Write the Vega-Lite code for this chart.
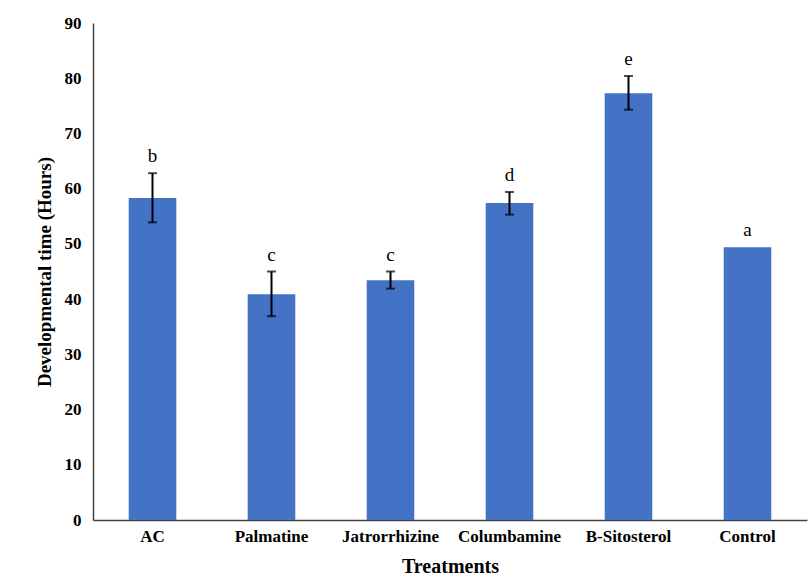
{
  "$schema": "https://vega.github.io/schema/vega-lite/v6.json",
  "autosize": "none",
  "width": 714,
  "height": 497,
  "padding": {"left": 93, "top": 23, "right": 5, "bottom": 65},
  "background": "white",
  "config": {
    "view": {"stroke": null},
    "font": "Liberation Serif",
    "axis": {"labelFont": "Liberation Serif", "titleFont": "Liberation Serif", "labelFontWeight": "bold", "titleFontWeight": "bold", "labelColor": "black", "titleColor": "black", "domainColor": "#444", "domainWidth": 1.5, "ticks": false, "grid": false}
  },
  "data": {
    "values": [
      {"treatment": "AC", "mean": 58.3, "lower": 53.9, "upper": 62.8, "letter": "b"},
      {"treatment": "Palmatine", "mean": 40.9, "lower": 36.9, "upper": 45.0, "letter": "c"},
      {"treatment": "Jatrorrhizine", "mean": 43.4, "lower": 41.9, "upper": 45.0, "letter": "c"},
      {"treatment": "Columbamine", "mean": 57.4, "lower": 55.3, "upper": 59.4, "letter": "d"},
      {"treatment": "B-Sitosterol", "mean": 77.3, "lower": 74.3, "upper": 80.4, "letter": "e"},
      {"treatment": "Control", "mean": 49.4, "lower": null, "upper": null, "letter": "a"}
    ]
  },
  "encoding": {
    "x": {"field": "treatment", "type": "nominal", "sort": null,
      "scale": {"paddingInner": 0.6, "paddingOuter": 0.3},
      "axis": {"title": "Treatments", "labelAngle": 0, "labelFontSize": 17, "titleFontSize": 20, "labelPadding": 8, "titlePadding": 12}}
  },
  "layer": [
    {
      "mark": {"type": "bar", "color": "#4472C4"},
      "encoding": {
        "y": {"field": "mean", "type": "quantitative", "scale": {"domain": [0, 90]},
          "axis": {"title": "Developmental time (Hours)", "values": [0,10,20,30,40,50,60,70,80,90], "labelFontSize": 17, "titleFontSize": 19, "labelPadding": 12, "titlePadding": 10}}
      }
    },
    {
      "transform": [{"filter": "datum.upper != null"}],
      "mark": {"type": "rule", "color": "black", "strokeWidth": 2},
      "encoding": {"y": {"field": "lower", "type": "quantitative"}, "y2": {"field": "upper"}}
    },
    {
      "transform": [{"filter": "datum.upper != null"}],
      "mark": {"type": "tick", "color": "black", "thickness": 2, "size": 9, "orient": "horizontal"},
      "encoding": {"y": {"field": "lower", "type": "quantitative"}}
    },
    {
      "transform": [{"filter": "datum.upper != null"}],
      "mark": {"type": "tick", "color": "black", "thickness": 2, "size": 9, "orient": "horizontal"},
      "encoding": {"y": {"field": "upper", "type": "quantitative"}}
    },
    {
      "transform": [{"calculate": "datum.upper != null ? datum.upper : datum.mean", "as": "top"}],
      "mark": {"type": "text", "font": "Liberation Serif", "fontSize": 19, "color": "black", "baseline": "alphabetic", "dy": -11},
      "encoding": {"y": {"field": "top", "type": "quantitative"}, "text": {"field": "letter"}}
    }
  ]
}
